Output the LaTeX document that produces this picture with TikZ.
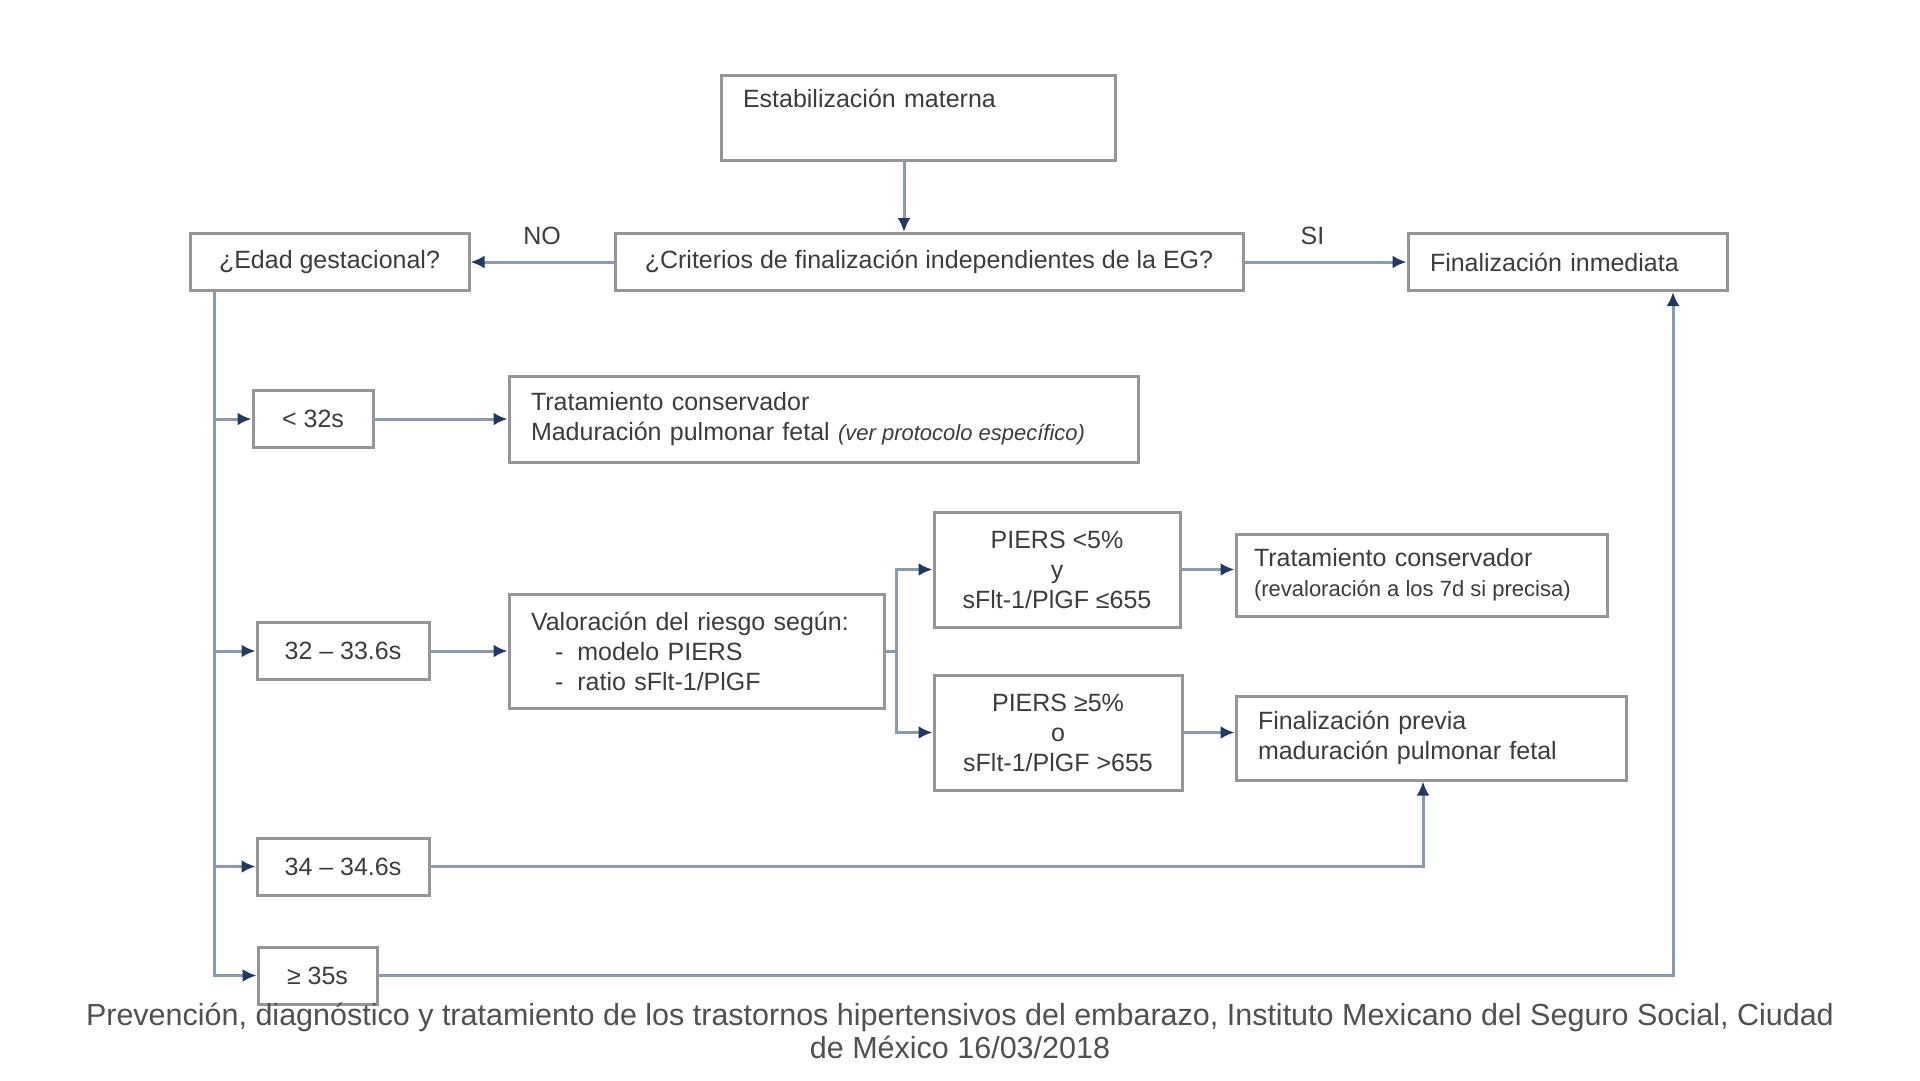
\documentclass[tikz,border=0pt]{standalone}
\usepackage{fontspec}
\setmainfont{Liberation Sans}
\usepackage{tikz}
\usetikzlibrary{arrows.meta, calc}
\definecolor{linegray}{RGB}{138,154,181}
\definecolor{headblue}{RGB}{31,56,100}
\definecolor{boxgray}{RGB}{150,150,150}
\definecolor{txtgray}{RGB}{60,60,60}

\begin{document}
\begin{tikzpicture}[x=1pt, y=-1pt,
    box/.style={rectangle, draw=boxgray, line width=3pt, fill=white, inner xsep=22pt, inner ysep=0pt, text=txtgray, font=\fontsize{25}{30}\selectfont},
    leftbox/.style={box, align=left},
    midbox/.style={box, align=center, minimum height=57pt},
    arrow/.style={line width=3pt, draw=linegray, -{Latex[length=14pt, width=13pt, color=headblue]}},
    lbl/.style={text=txtgray, font=\fontsize{25}{30}\selectfont},
    note/.style={text=txtgray!90, align=center, font=\fontsize{30.5}{33}\selectfont}
  ]
    \useasboundingbox (0,0) rectangle (1920,1080);

    \node[leftbox, text width=350pt, minimum height=85pt] (estab) at (918,117.5) {Estabilización materna\\\strut};
    \node[midbox, minimum width=628pt] (crit) at (929,262) {¿Criterios de finalización independientes de la EG?};
    \node[midbox, minimum width=279pt] (edad) at (329.5,262) {¿Edad gestacional?};
    \node[leftbox, text width=275pt, minimum height=57pt] (fin) at (1567.5,262) {Finalización inmediata};

    \node[midbox, minimum width=120pt] (lt32) at (313,419) {< 32s};
    \node[leftbox, text width=585pt, minimum height=86pt] (trat1) at (823.5,419) {Tratamiento conservador\\Maduración pulmonar fetal {\fontsize{22}{30}\selectfont\itshape\spaceskip=0pt (ver protocolo específico)}};

    \node[midbox, minimum width=172pt] (r32) at (343,651) {32 – 33.6s};
    \node[leftbox, text width=331pt, minimum height=114pt] (valor) at (696.5,651) {Valoración del riesgo según:\\\hspace*{24pt}-\hspace{14pt}modelo PIERS\\\hspace*{24pt}-\hspace{14pt}ratio sFlt-1/PlGF};

    \node[box, align=center, minimum width=246pt, minimum height=115pt] (piersA) at (1057,569.5) {PIERS <5\%\\y\\sFlt-1/PlGF ≤655};
    \node[leftbox, inner xsep=18pt, text width=335pt, minimum height=82pt] (trat2) at (1421.5,575) {Tratamiento conservador\\{\fontsize{22}{27}\selectfont\spaceskip=0pt (revaloración a los 7d si precisa)}};

    \node[box, align=center, minimum width=248pt, minimum height=115pt] (piersB) at (1058,732.5) {PIERS ≥5\%\\o\\sFlt-1/PlGF >655};
    \node[leftbox, text width=346pt, minimum height=84pt] (finprev) at (1431,738) {Finalización previa\\maduración pulmonar fetal};

    \node[midbox, minimum width=172pt] (r34) at (343,866.5) {34 – 34.6s};
    \node[midbox, minimum width=119pt] (ge35) at (317.5,975.5) {≥ 35s};

    % connectors
    \draw[arrow] ([xshift=-14pt]estab.south) -- ([xshift=-14pt]estab.south |- crit.north);
    \draw[arrow] (crit) -- node[lbl, above=12pt] {NO} (edad);
    \draw[arrow] (crit) -- node[lbl, above=12pt, pos=0.42] {SI} (fin);

    \coordinate (trunk) at ([xshift=-115.5pt]edad.south);
    \draw[arrow] (trunk) |- (lt32);
    \draw[arrow] (trunk) |- (r32);
    \draw[arrow] (trunk) |- (r34);
    \draw[arrow] (trunk) |- (ge35);

    \draw[arrow] (lt32) -- (trat1);
    \draw[arrow] (r32) -- (valor);
    \coordinate (split) at ([xshift=11pt]valor.east);
    \draw[line width=3pt, draw=linegray] (valor.east) -- (split);
    \draw[arrow] (split) |- (piersA);
    \draw[arrow] (split) |- (piersB);
    \draw[arrow] (piersA.east) -- (piersA.east -| trat2.west);
    \draw[arrow] (piersB.east) -- (piersB.east -| finprev.west);
    \draw[arrow] (r34) -| ([xshift=-8pt]finprev.south);
    \draw[arrow] (ge35) -| ([xshift=105.5pt]fin.south);

    \node[note] (src) at (960,1031) {Prevención, diagnóstico y tratamiento de los trastornos hipertensivos del embarazo, Instituto Mexicano del Seguro Social, Ciudad\\de México 16/03/2018};
  \end{tikzpicture}
\end{document}
